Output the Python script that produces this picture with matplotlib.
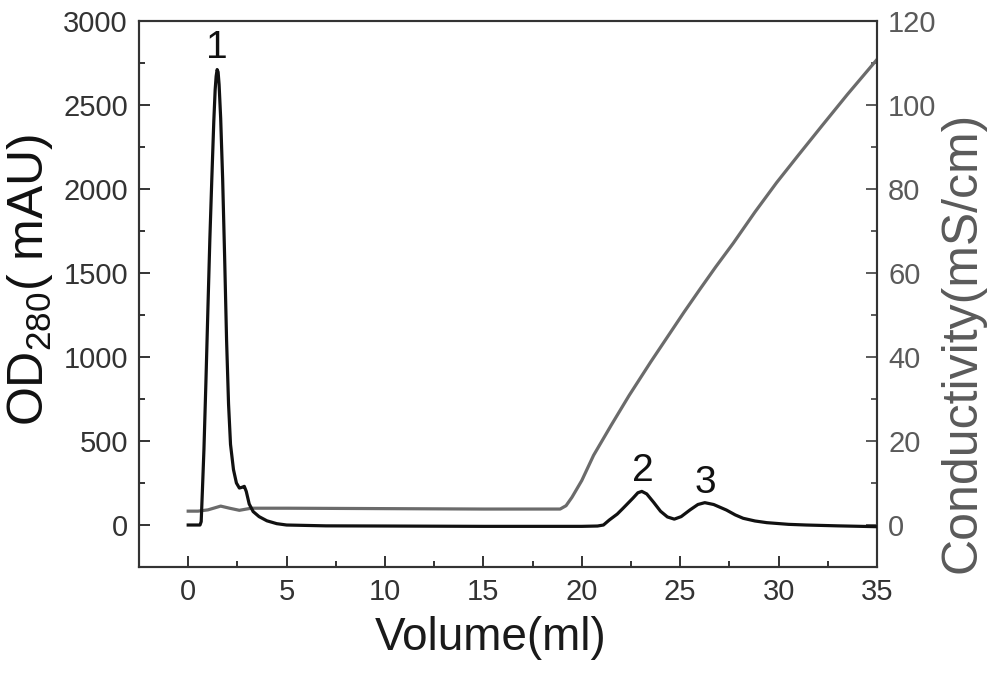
import matplotlib
matplotlib.use("Agg")
import matplotlib.pyplot as plt
from matplotlib.ticker import MultipleLocator

plt.rcParams['font.family'] = ['Liberation Sans', 'DejaVu Sans']
plt.rcParams['mathtext.default'] = 'regular'

# OD280 trace (mAU) vs volume (ml)
od_volume = [0.0, 0.6, 0.66, 0.72, 0.8, 0.9, 1.0, 1.1, 1.2, 1.3, 1.37, 1.42, 1.47, 1.52, 1.57, 1.65, 1.75,
             1.85, 1.95, 2.05, 2.15, 2.3, 2.45, 2.6, 2.75, 2.85, 2.95, 3.1, 3.3, 3.6, 4.0, 4.5, 5.0,
             7.0, 10.0, 15.0, 20.0, 20.8, 21.1, 21.4, 21.8, 22.1, 22.6, 22.85, 23.05, 23.3, 23.65,
             24.0, 24.35, 24.7, 25.05, 25.5, 25.9, 26.25, 26.7, 27.35, 27.8, 28.2, 28.8, 29.4,
             30.5, 31.4, 33.0, 35.0]
od_value = [0, 0, 20, 200, 450, 850, 1280, 1700, 2060, 2400, 2590, 2670, 2710, 2695, 2620, 2420, 2060,
            1600, 1100, 720, 480, 330, 250, 220, 225, 230, 200, 125, 80, 50, 25, 8, 0,
            -5, -6, -8, -8, -6, 0, 30, 65, 100, 160, 192, 200, 185, 135,
            82, 48, 35, 50, 90, 122, 133, 122, 89, 60, 40, 24, 14,
            4, 0, -5, -10]

# Conductivity trace (mS/cm) vs volume (ml)
cond_volume = [0.0, 0.5, 1.0, 1.65, 2.1, 2.6, 3.2, 5.0, 10.0, 15.0, 18.9, 19.2, 19.5, 20.0, 20.6,
               21.5, 22.4, 23.5, 24.5, 25.2, 26.0, 26.8, 27.7, 28.8, 29.9, 31.0, 32.2, 33.5, 35.0]
cond_value = [3.3, 3.3, 3.6, 4.5, 4.0, 3.5, 4.0, 4.0, 3.9, 3.8, 3.8, 4.6, 6.6, 10.6, 16.6,
              23.8, 30.8, 38.8, 45.8, 50.7, 56.1, 61.4, 67.1, 74.5, 81.5, 88.0, 95.0, 102.5, 110.8]

peak_labels = ["1", "2", "3"]
peak_x = [1.47, 23.1, 26.3]
peak_y = [2730, 215, 140]

fig = plt.figure(figsize=(10, 6.76), dpi=100)
ax = fig.add_axes([0.139, 0.1612, 0.738, 0.808])
ax2 = ax.twinx()

gray = '#6b6b6b'
ax2.plot(cond_volume, cond_value, color=gray, lw=2.3, solid_joinstyle='round')
ax.plot(od_volume, od_value, color='#111111', lw=2.3, solid_joinstyle='round', zorder=5)
ax.set_zorder(ax2.get_zorder() + 1)
ax.patch.set_visible(False)

ax.set_xlim(-2.5, 35)
ax.set_ylim(-250, 3000)
ax2.set_ylim(-10, 120)

ax.xaxis.set_major_locator(MultipleLocator(5))
ax.xaxis.set_minor_locator(MultipleLocator(2.5))
ax.yaxis.set_major_locator(MultipleLocator(500))
ax.yaxis.set_minor_locator(MultipleLocator(250))
ax2.yaxis.set_major_locator(MultipleLocator(20))
ax2.yaxis.set_minor_locator(MultipleLocator(10))

ax.tick_params(axis='both', which='major', direction='in', length=8, width=1.4,
               labelsize=21, colors='#333333', pad=8)
ax.tick_params(axis='both', which='minor', direction='in', length=4.5, width=1.4, colors='#333333')
ax.tick_params(axis='x', which='both', top=False)
ax.tick_params(axis='y', which='both', right=False)
ax2.tick_params(axis='y', which='major', direction='in', length=8, width=1.4,
                labelsize=21, colors='#5a5a5a', pad=8)
ax2.tick_params(axis='y', which='minor', direction='in', length=4.5, width=1.4, colors='#5a5a5a')

for a in (ax, ax2):
    for s in a.spines.values():
        s.set_linewidth(1.5)
        s.set_color('#333333')
ax2.spines['right'].set_color('#666666')

ax.set_xlabel('Volume(ml)', fontsize=33, color='#1a1a1a')
ax.xaxis.set_label_coords(0.476, -0.09)
ax.set_ylabel(r'OD$_{280}$( mAU)', fontsize=36, color='#111111')
ax.yaxis.set_label_coords(-0.148, 0.526)
ax.yaxis.label.set_verticalalignment('center')
ax2.set_ylabel('Conductivity(mS/cm)', fontsize=36, color='#5a5a5a')
ax2.yaxis.set_label_coords(1.1165, 0.412)
ax2.yaxis.label.set_verticalalignment('center')

for lab, x, y in zip(peak_labels, peak_x, peak_y):
    ax.text(x, y, lab, fontsize=28, ha='center', va='bottom', color='#111111', zorder=6)

fig.savefig('out.png', dpi=100)
